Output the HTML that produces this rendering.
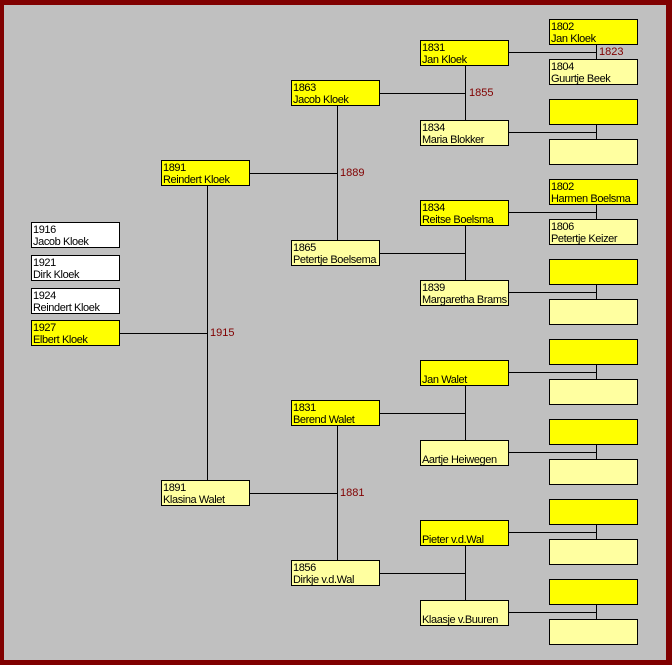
<!DOCTYPE html>
<html><head><meta charset="utf-8"><style>
body{margin:0;width:672px;height:665px;overflow:hidden;background:#800000;font-family:"Liberation Sans",sans-serif;}
#bg{position:absolute;left:4px;top:5px;width:662px;height:655px;background:#c0c0c0;}
.b{position:absolute;box-sizing:border-box;width:89px;height:26px;border:1px solid #000;font-size:11px;letter-spacing:-0.4px;line-height:12px;padding:1px 0 0 1px;color:#000;white-space:nowrap;overflow:hidden;}
.y{background:#ffff00}.l{background:#ffffa0}.w{background:#fff}
.h{position:absolute;height:1px;background:#000}
.v{position:absolute;width:1px;background:#000}
.t{position:absolute;font-size:11px;color:#800000;line-height:12px}
</style></head><body><div id="bg"></div>
<div class="h" style="left:119px;top:333px;width:88px"></div>
<div class="v" style="left:207px;top:185px;height:295px"></div>
<div class="t" style="left:210px;top:327px">1915</div>
<div class="h" style="left:249px;top:173px;width:88px"></div>
<div class="h" style="left:249px;top:493px;width:88px"></div>
<div class="v" style="left:337px;top:105px;height:135px"></div>
<div class="v" style="left:337px;top:425px;height:135px"></div>
<div class="t" style="left:340px;top:167px">1889</div>
<div class="t" style="left:340px;top:487px">1881</div>
<div class="h" style="left:379px;top:93px;width:86px"></div>
<div class="h" style="left:379px;top:253px;width:86px"></div>
<div class="h" style="left:379px;top:413px;width:86px"></div>
<div class="h" style="left:379px;top:573px;width:86px"></div>
<div class="v" style="left:465px;top:65px;height:55px"></div>
<div class="v" style="left:465px;top:225px;height:55px"></div>
<div class="v" style="left:465px;top:385px;height:55px"></div>
<div class="v" style="left:465px;top:545px;height:55px"></div>
<div class="t" style="left:469px;top:87px">1855</div>
<div class="h" style="left:509px;top:52px;width:87px"></div>
<div class="h" style="left:509px;top:132px;width:87px"></div>
<div class="h" style="left:509px;top:212px;width:87px"></div>
<div class="h" style="left:509px;top:292px;width:87px"></div>
<div class="h" style="left:509px;top:372px;width:87px"></div>
<div class="h" style="left:509px;top:452px;width:87px"></div>
<div class="h" style="left:509px;top:532px;width:87px"></div>
<div class="h" style="left:509px;top:612px;width:87px"></div>
<div class="v" style="left:596px;top:45px;height:14px"></div>
<div class="v" style="left:596px;top:125px;height:14px"></div>
<div class="v" style="left:596px;top:205px;height:14px"></div>
<div class="v" style="left:596px;top:285px;height:14px"></div>
<div class="v" style="left:596px;top:365px;height:14px"></div>
<div class="v" style="left:596px;top:445px;height:14px"></div>
<div class="v" style="left:596px;top:525px;height:14px"></div>
<div class="v" style="left:596px;top:605px;height:14px"></div>
<div class="t" style="left:599px;top:46px">1823</div>
<div class="b w" style="left:31px;top:222px">1916<br>Jacob Kloek</div>
<div class="b w" style="left:31px;top:255px">1921<br>Dirk Kloek</div>
<div class="b w" style="left:31px;top:288px">1924<br>Reindert Kloek</div>
<div class="b y" style="left:31px;top:320px">1927<br>Elbert Kloek</div>
<div class="b y" style="left:161px;top:160px">1891<br>Reindert Kloek</div>
<div class="b l" style="left:161px;top:480px">1891<br>Klasina Walet</div>
<div class="b y" style="left:291px;top:80px">1863<br>Jacob Kloek</div>
<div class="b l" style="left:291px;top:240px">1865<br>Petertje Boelsema</div>
<div class="b y" style="left:291px;top:400px">1831<br>Berend Walet</div>
<div class="b l" style="left:291px;top:560px">1856<br>Dirkje v.d.Wal</div>
<div class="b y" style="left:420px;top:40px">1831<br>Jan Kloek</div>
<div class="b l" style="left:420px;top:120px">1834<br>Maria Blokker</div>
<div class="b y" style="left:420px;top:200px">1834<br>Reitse Boelsma</div>
<div class="b l" style="left:420px;top:280px">1839<br>Margaretha Brams</div>
<div class="b y" style="left:420px;top:360px"><br>Jan Walet</div>
<div class="b l" style="left:420px;top:440px"><br>Aartje Heiwegen</div>
<div class="b y" style="left:420px;top:520px"><br>Pieter v.d.Wal</div>
<div class="b l" style="left:420px;top:600px"><br>Klaasje v.Buuren</div>
<div class="b y" style="left:549px;top:19px">1802<br>Jan Kloek</div>
<div class="b l" style="left:549px;top:59px">1804<br>Guurtje Beek</div>
<div class="b y" style="left:549px;top:99px"></div>
<div class="b l" style="left:549px;top:139px"></div>
<div class="b y" style="left:549px;top:179px">1802<br>Harmen Boelsma</div>
<div class="b l" style="left:549px;top:219px">1806<br>Petertje Keizer</div>
<div class="b y" style="left:549px;top:259px"></div>
<div class="b l" style="left:549px;top:299px"></div>
<div class="b y" style="left:549px;top:339px"></div>
<div class="b l" style="left:549px;top:379px"></div>
<div class="b y" style="left:549px;top:419px"></div>
<div class="b l" style="left:549px;top:459px"></div>
<div class="b y" style="left:549px;top:499px"></div>
<div class="b l" style="left:549px;top:539px"></div>
<div class="b y" style="left:549px;top:579px"></div>
<div class="b l" style="left:549px;top:619px"></div>
</body></html>
